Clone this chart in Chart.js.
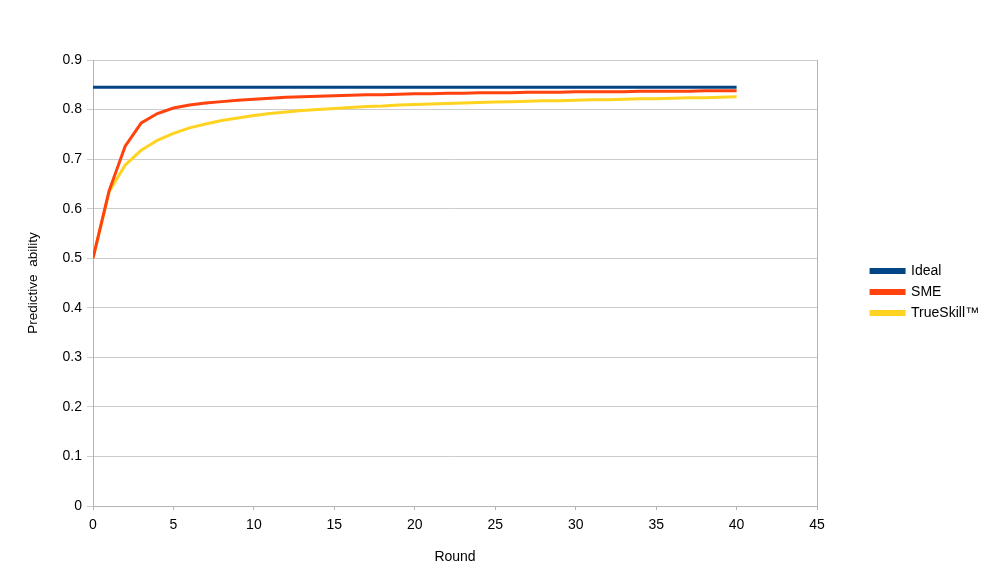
<!DOCTYPE html>
<html>
<head>
<meta charset="utf-8">
<script src="https://cdn.jsdelivr.net/npm/chart.js@4"></script>
<style>
  html, body { margin: 0; padding: 0; background: #fff; }
  canvas { display: block; }
</style>
</head>
<body>
<canvas id="chart" width="994" height="585"></canvas>
<script>
  // rounds 0..40
  const rounds = [];
  for (let i = 0; i <= 40; i++) rounds.push(i);

  const ideal = [0.845, 0.845, 0.845, 0.845, 0.845, 0.845, 0.845, 0.845, 0.845, 0.845,
                 0.845, 0.845, 0.845, 0.845, 0.845, 0.845, 0.845, 0.845, 0.845, 0.845,
                 0.845, 0.845, 0.845, 0.845, 0.845, 0.845, 0.845, 0.845, 0.845, 0.845,
                 0.845, 0.845, 0.845, 0.845, 0.845, 0.845, 0.845, 0.845, 0.845, 0.845, 0.845];

  const sme = [0.5, 0.636, 0.726, 0.773, 0.792, 0.803, 0.809, 0.813, 0.816, 0.819,
               0.821, 0.823, 0.825, 0.826, 0.827, 0.828, 0.829, 0.830, 0.830, 0.831,
               0.832, 0.832, 0.833, 0.833, 0.834, 0.834, 0.834, 0.835, 0.835, 0.835,
               0.836, 0.836, 0.836, 0.836, 0.837, 0.837, 0.837, 0.837, 0.838, 0.838, 0.838];

  const trueskill = [0.5, 0.634, 0.688, 0.718, 0.738, 0.752, 0.763, 0.771, 0.778, 0.783,
                     0.788, 0.792, 0.795, 0.798, 0.800, 0.802, 0.804, 0.806, 0.807, 0.809,
                     0.810, 0.811, 0.812, 0.813, 0.814, 0.815, 0.816, 0.817, 0.818, 0.818,
                     0.819, 0.820, 0.820, 0.821, 0.822, 0.822, 0.823, 0.824, 0.824, 0.825, 0.826];

  const toPts = arr => arr.map((v, i) => ({ x: rounds[i], y: v }));

  Chart.defaults.font.family = '"Liberation Sans", Arial, sans-serif';
  Chart.defaults.color = '#000';

  new Chart(document.getElementById('chart'), {
    type: 'line',
    data: {
      datasets: [
        { label: 'Ideal', data: toPts(ideal), borderColor: '#004586', backgroundColor: '#004586', borderWidth: 3, pointRadius: 0, tension: 0 },
        { label: 'SME', data: toPts(sme), borderColor: '#ff420e', backgroundColor: '#ff420e', borderWidth: 3, pointRadius: 0, tension: 0 },
        { label: 'TrueSkill™', data: toPts(trueskill), borderColor: '#ffd320', backgroundColor: '#ffd320', borderWidth: 3, pointRadius: 0, tension: 0 }
      ]
    },
    options: {
      responsive: false,
      animation: false,
      layout: { padding: { left: 18, top: 60, right: 5, bottom: 18 } },
      plugins: {
        tooltip: { enabled: false },
        legend: {
          position: 'right',
          fullSize: false,
          title: { display: true, text: ' ', font: { size: 10 }, padding: { top: 3, bottom: 3 } },
          labels: {
            boxWidth: 33,
            boxHeight: 3,
            padding: 7,
            font: { size: 14 }
          }
        }
      },
      scales: {
        x: {
          type: 'linear',
          min: 0,
          max: 45,
          ticks: { stepSize: 5, font: { size: 14 }, padding: 7 },
          grid: { drawOnChartArea: false, drawTicks: true, tickLength: 4, color: '#b3b3b3' },
          border: { color: '#b3b3b3', width: 1 },
          title: { display: true, text: 'Round', font: { size: 14 }, padding: { top: 0, bottom: 1 } },
          afterFit: s => { s.height = 61; }
        },
        y: {
          min: 0,
          max: 0.9,
          ticks: { stepSize: 0.1, font: { size: 14 }, padding: 5 },
          grid: { color: '#cccccc', tickLength: 6, drawTicks: true },
          border: { color: '#b3b3b3', width: 1 },
          title: { display: true, text: 'Predictive  ability', font: { size: 13.5 }, padding: { top: 7, bottom: 4 } },
          afterFit: s => { s.width = 75; }
        },
        // right frame of the plot area and gap before the legend
        y2: {
          type: 'linear',
          position: 'right',
          min: 0,
          max: 1,
          ticks: { display: false },
          grid: { display: false },
          border: { display: true, color: '#b3b3b3', width: 1 },
          afterFit: s => { s.width = 47; }
        }
      }
    }
  });
</script>
</body>
</html>
